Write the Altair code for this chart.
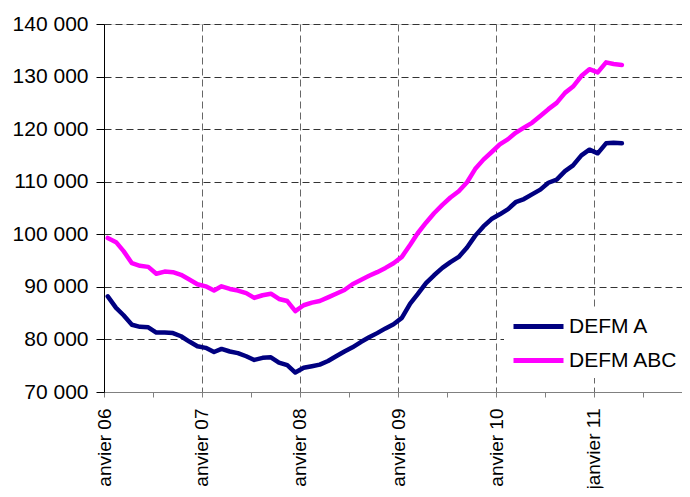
import altair as alt
import pandas as pd

# Monthly data, January 2006 - April 2011 (points at mid-month)
months = [f"{2006 + i // 12}-{i % 12 + 1:02d}-15" for i in range(64)]

defm_a = [
    88200, 86000, 84600, 82800, 82400, 82300, 81300, 81300, 81200, 80600, 79600, 78700,
    78400, 77600, 78200, 77700, 77400, 76800, 76100, 76500, 76600, 75600, 75100, 73700,
    74600, 74900, 75200, 75900, 76800, 77700, 78500, 79500, 80400, 81200, 82100, 82900,
    84100, 86800, 88600, 90700, 92200, 93600, 94700, 95700, 97500, 99700, 101500, 102900,
    103800, 104800, 106100, 106700, 107600, 108500, 109800, 110400, 112000, 113100, 115000, 116100,
    115400, 117300, 117400, 117300,
]

defm_abc = [
    99300, 98500, 96800, 94500, 94000, 93800, 92500, 92900, 92800, 92300, 91400, 90500,
    90100, 89300, 90100, 89600, 89300, 88800, 87900, 88400, 88700, 87700, 87300, 85400,
    86500, 87000, 87300, 88000, 88700, 89400, 90500, 91300, 92100, 92800, 93600, 94500,
    95700, 98000, 100200, 102200, 104000, 105600, 107000, 108200, 109900, 112400, 114200, 115600,
    117100, 118100, 119300, 120300, 121200, 122500, 123800, 125000, 126900, 128100, 130100, 131400,
    130800, 132700, 132400, 132200,
]

series_names = ["DEFM A", "DEFM ABC"]
series_colors = ["#000080", "#FF00FF"]
y_ticks = [70000, 80000, 90000, 100000, 110000, 120000, 130000, 140000]

df = pd.concat([
    pd.DataFrame({"date": months, "value": defm_a, "series": series_names[0]}),
    pd.DataFrame({"date": months, "value": defm_abc, "series": series_names[1]}),
])

# ticks every six months: January (labelled, gridline) and July (minor tick)
x_tick_values = [
    alt.DateTime(year=y, month=m, date=1, utc=True)
    for y in range(2006, 2012) for m in (1, 7)
]

FONT = "Liberation Sans"

x_axis = alt.Axis(
    values=x_tick_values,
    labelExpr="utcmonth(datum.value) == 0 ? 'janvier ' + utcFormat(datum.value, '%y') : ''",
    labelAngle=270,
    labelFontSize=19,
    labelFont=FONT,
    labelColor="black",
    labelPadding=11,
    labelOverlap=False,
    labelFlush=False,
    tickSize=5,
    tickColor="#808080",
    domainColor="#808080",
    grid=True,
    gridDash=[7, 4],
    gridColor="#666666",
    gridOpacity={"condition": {"test": "utcmonth(datum.value) == 0", "value": 1}, "value": 0},
    title=None,
)

y_axis = alt.Axis(
    values=y_ticks,
    labelExpr="replace(format(datum.value, ','), ',', ' ')",
    labelFontSize=21,
    labelFont=FONT,
    labelColor="black",
    labelPadding=8,
    tickSize=8,
    tickColor="black",
    domainColor="black",
    grid=True,
    gridDash=[7, 4],
    gridColor="#333333",
    title=None,
)

legend = alt.Legend(
    orient="none",
    legendX=400,
    legendY=283,
    title=None,
    symbolType="M-1,0H4",
    symbolSize=400,
    symbolStrokeWidth=5,
    labelFontSize=21,
    labelFont=FONT,
    labelColor="black",
    labelOffset=33,
    fillColor="white",
    padding=7,
    rowPadding=11,
)

chart = alt.Chart(df).mark_line(
    strokeWidth=4.5, strokeJoin="round", strokeCap="round"
).encode(
    x=alt.X(
        "date:T",
        scale=alt.Scale(
            type="utc",
            domain=[
                alt.DateTime(year=2006, month=1, date=1, utc=True),
                alt.DateTime(year=2011, month=11, date=25, utc=True),
            ],
        ),
        axis=x_axis,
    ),
    y=alt.Y("value:Q", scale=alt.Scale(domain=[70000, 140000], nice=False, zero=False), axis=y_axis),
    color=alt.Color(
        "series:N",
        scale=alt.Scale(domain=series_names, range=series_colors),
        legend=legend,
    ),
).properties(
    width=578,
    height=368,
    autosize=alt.AutoSizeParams(type="none"),
    padding={"left": 96, "top": 16, "right": 0, "bottom": 96},
    background="white",
).configure_view(stroke=None).configure(font=FONT)

chart.save("out.html", embed_options={"renderer": "svg", "actions": False})
